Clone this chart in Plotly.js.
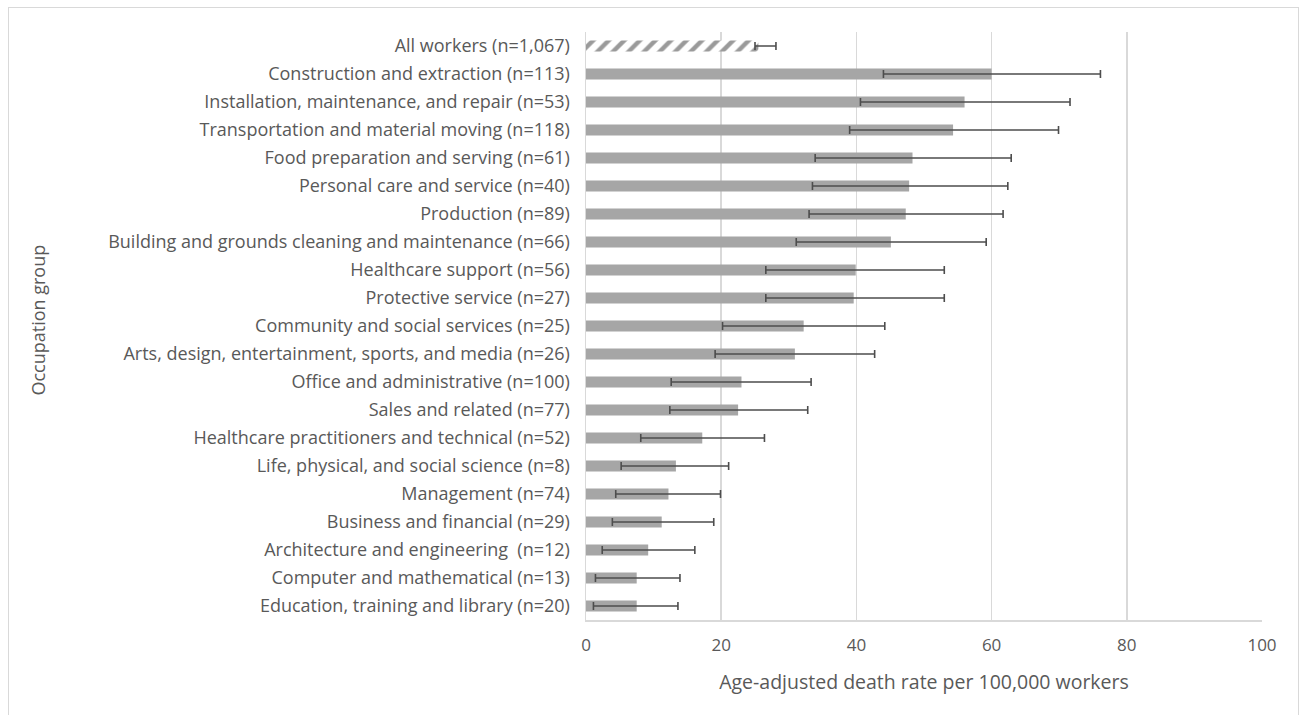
<!DOCTYPE html>
<html>
<head>
<meta charset="utf-8">
<script src="https://cdn.plot.ly/plotly-3.0.1.min.js"></script>
<style>
html,body{margin:0;padding:0;background:#fff;}
#wrap{position:relative;width:1301px;height:715px;overflow:hidden;}
#chart{width:1301px;height:715px;}
#frame{position:absolute;left:8px;top:7px;width:1291px;height:720px;border:1px solid #d9d9d9;pointer-events:none;box-sizing:border-box;}
</style>
</head>
<body>
<div id="wrap"><div id="chart"></div><div id="frame"></div></div>
<script>
const categories = [
  "All workers (n=1,067)",
  "Construction and extraction (n=113)",
  "Installation, maintenance, and repair (n=53)",
  "Transportation and material moving (n=118)",
  "Food preparation and serving (n=61)",
  "Personal care and service (n=40)",
  "Production (n=89)",
  "Building and grounds cleaning and maintenance (n=66)",
  "Healthcare support (n=56)",
  "Protective service (n=27)",
  "Community and social services (n=25)",
  "Arts, design, entertainment, sports, and media (n=26)",
  "Office and administrative (n=100)",
  "Sales and related (n=77)",
  "Healthcare practitioners and technical (n=52)",
  "Life, physical, and social science (n=8)",
  "Management (n=74)",
  "Business and financial (n=29)",
  "Architecture and engineering  (n=12)",
  "Computer and mathematical (n=13)",
  "Education, training and library (n=20)"
];
const rates = [25.5, 60.0, 56.0, 54.3, 48.3, 47.8, 47.3, 45.1, 39.9, 39.6, 32.2, 30.9, 23.0, 22.5, 17.2, 13.3, 12.2, 11.2, 9.2, 7.5, 7.5];
const ciLower = [25.0, 44.0, 40.6, 39.0, 33.9, 33.5, 33.0, 31.1, 26.6, 26.6, 20.2, 19.1, 12.6, 12.4, 8.1, 5.2, 4.4, 3.9, 2.4, 1.4, 1.1];
const ciUpper = [28.1, 76.1, 71.6, 69.9, 62.9, 62.4, 61.7, 59.2, 53.0, 53.0, 44.2, 42.7, 33.3, 32.8, 26.4, 21.1, 19.9, 18.9, 16.1, 13.9, 13.6];
const xTicks = [0, 20, 40, 60, 80, 100];

const errPlus = rates.map((v, i) => ciUpper[i] - v);
const errMinus = rates.map((v, i) => v - ciLower[i]);

const errStyle = {color: "#4d4d4d", thickness: 1.6, width: 4};

// "All workers" (hatched) bar
const traceAll = {
  type: "bar",
  orientation: "h",
  y: categories.slice(0, 1),
  x: rates.slice(0, 1),
  marker: {
    color: "#ffffff",
    line: {width: 0},
    pattern: {shape: "/", fgcolor: "#9a9a9a", bgcolor: "#ffffff", size: 11, solidity: 0.4}
  },
  error_x: Object.assign({type: "data", symmetric: false, array: errPlus.slice(0, 1), arrayminus: errMinus.slice(0, 1)}, errStyle)
};

// occupation groups
const traceGroups = {
  type: "bar",
  orientation: "h",
  y: categories.slice(1),
  x: rates.slice(1),
  marker: {color: "#a6a6a6", line: {width: 0}},
  error_x: Object.assign({type: "data", symmetric: false, array: errPlus.slice(1), arrayminus: errMinus.slice(1)}, errStyle)
};

const fontFam = "'Open Sans', 'Noto Sans', sans-serif";
const layout = {
  width: 1301,
  height: 715,
  margin: {l: 586, r: 39, t: 32, b: 95},
  paper_bgcolor: "#ffffff",
  plot_bgcolor: "#ffffff",
  showlegend: false,
  barmode: "overlay",
  bargap: 0.6,
  font: {family: fontFam, color: "#595959", size: 16},
  xaxis: {
    range: [0, 100],
    tickvals: xTicks,
    ticktext: xTicks.map(String),
    showgrid: true,
    gridcolor: "#d9d9d9",
    gridwidth: 1.5,
    zeroline: false,
    showline: true,
    linecolor: "#d9d9d9",
    linewidth: 1.5,
    ticks: "outside",
    ticklen: 9,
    tickcolor: "rgba(0,0,0,0)",
    tickfont: {family: fontFam, size: 17, color: "#595959"},
    title: {text: "Age-adjusted death rate per 100,000 workers", font: {family: fontFam, size: 19.5, color: "#595959"}},
    fixedrange: true
  },
  yaxis: {
    type: "category",
    categoryorder: "array",
    categoryarray: categories,
    autorange: "reversed",
    showgrid: false,
    zeroline: false,
    showline: true,
    linecolor: "#d9d9d9",
    linewidth: 1.5,
    ticks: "outside",
    ticklen: 11,
    tickcolor: "rgba(0,0,0,0)",
    tickfont: {family: fontFam, size: 18, color: "#595959"},
    automargin: false,
    fixedrange: true
  },
  annotations: [{
    text: "Occupation group",
    xref: "paper", yref: "paper",
    x: -0.81, y: 0.51,
    xanchor: "center", yanchor: "middle",
    textangle: -90,
    showarrow: false,
    font: {family: fontFam, size: 18, color: "#595959"}
  }]
};

Plotly.newPlot("chart", [traceAll, traceGroups], layout, {displayModeBar: false, staticPlot: true});
</script>
</body>
</html>
